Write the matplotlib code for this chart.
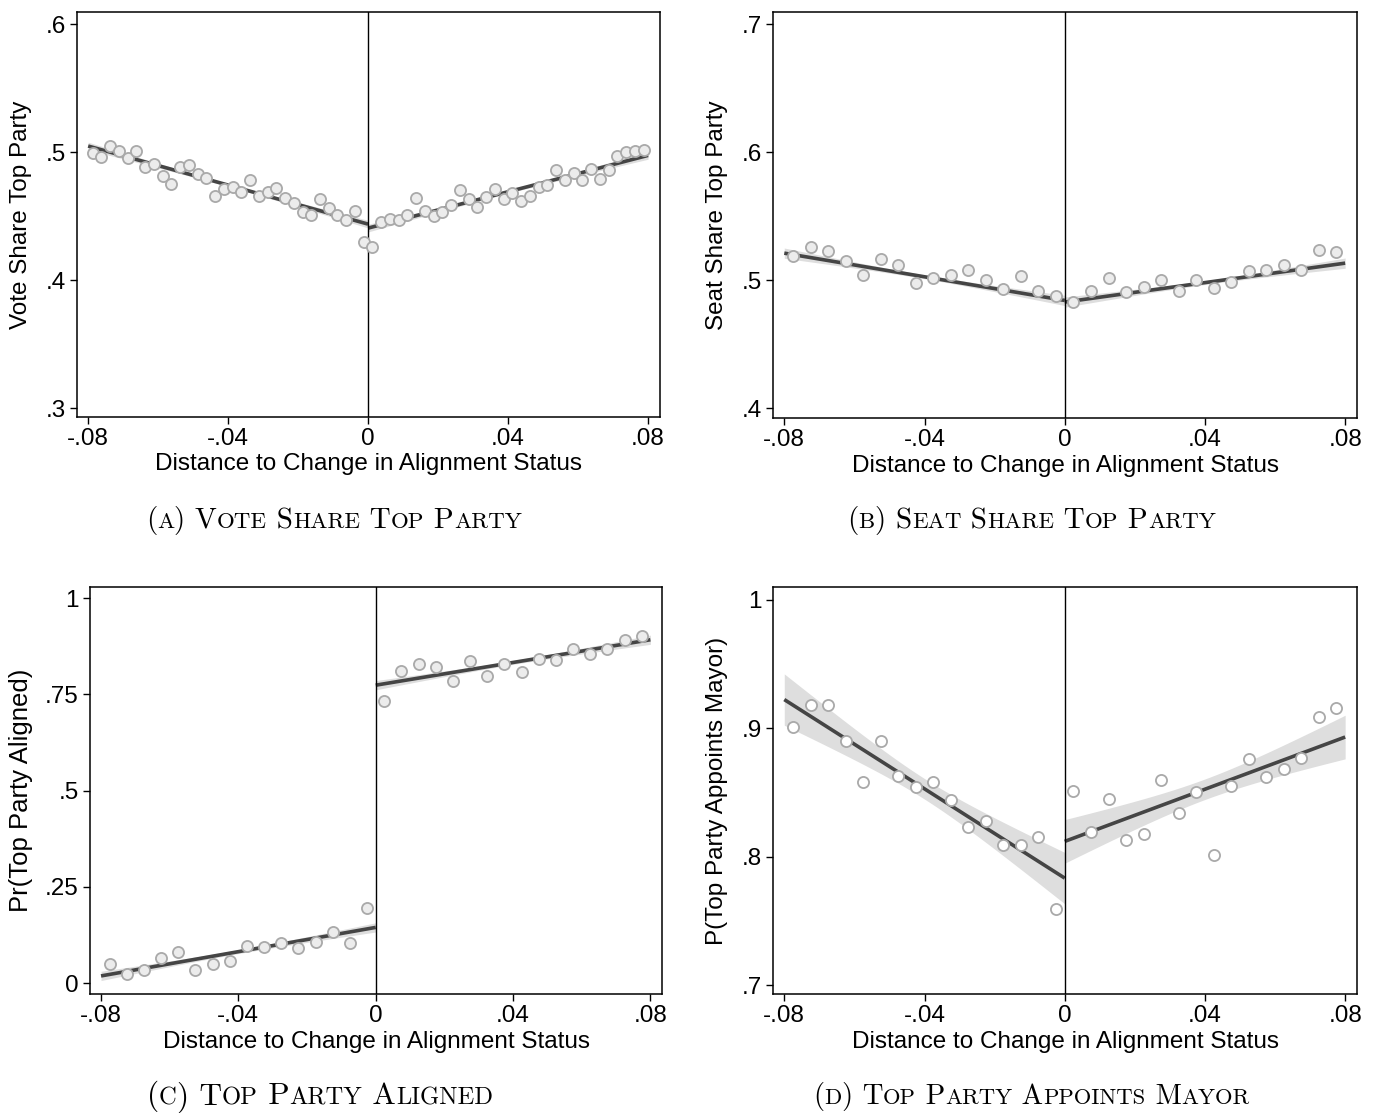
import numpy as np
import matplotlib
matplotlib.use("Agg")
import matplotlib.pyplot as plt
from matplotlib.offsetbox import TextArea, HPacker, AnchoredOffsetbox

# bin centres (regular grid of bins on each side of the cutoff)
bins_fine_left = np.linspace(-0.07875, -0.00125, 32)
bins_fine_right = np.linspace(0.00125, 0.07875, 32)
bins_coarse_left = np.linspace(-0.0775, -0.0025, 16)
bins_coarse_right = np.linspace(0.0025, 0.0775, 16)

# (A) vote share top party
vote_left = [0.499, 0.496, 0.505, 0.501, 0.495, 0.501, 0.488, 0.491, 0.481, 0.475,
             0.488, 0.490, 0.483, 0.480, 0.466, 0.471, 0.473, 0.469, 0.478, 0.466,
             0.469, 0.472, 0.464, 0.460, 0.453, 0.451, 0.463, 0.456, 0.451, 0.447,
             0.454, 0.430]
vote_right = [0.426, 0.445, 0.448, 0.447, 0.451, 0.464, 0.454, 0.450, 0.453, 0.459,
              0.470, 0.463, 0.457, 0.465, 0.471, 0.463, 0.468, 0.462, 0.466, 0.473,
              0.474, 0.486, 0.478, 0.484, 0.478, 0.487, 0.479, 0.486, 0.497, 0.500,
              0.501, 0.502]

# (B) seat share top party
seat_left = [0.519, 0.526, 0.523, 0.515, 0.504, 0.517, 0.512, 0.498, 0.502, 0.504,
             0.508, 0.500, 0.493, 0.503, 0.492, 0.488]
seat_right = [0.483, 0.492, 0.502, 0.491, 0.495, 0.500, 0.492, 0.500, 0.494, 0.499,
              0.507, 0.508, 0.512, 0.508, 0.524, 0.522]

# (C) top party aligned
aligned_left = [0.050, 0.023, 0.035, 0.065, 0.081, 0.035, 0.050, 0.058, 0.098, 0.094,
                0.105, 0.092, 0.108, 0.132, 0.104, 0.195]
aligned_right = [0.732, 0.810, 0.830, 0.820, 0.785, 0.838, 0.797, 0.829, 0.807, 0.842,
                 0.839, 0.867, 0.855, 0.867, 0.892, 0.902]

# (D) top party appoints mayor
mayor_left = [0.901, 0.918, 0.918, 0.890, 0.858, 0.890, 0.863, 0.854, 0.858, 0.844,
              0.823, 0.828, 0.809, 0.809, 0.815, 0.759]
mayor_right = [0.851, 0.819, 0.845, 0.813, 0.818, 0.860, 0.834, 0.850, 0.801, 0.855,
               0.876, 0.862, 0.868, 0.877, 0.909, 0.916]

# linear fits: value at the outer edge and at the cutoff, CI half-width (edge, middle)
fit_vote = {"left": (0.5047, 0.4437), "right": (0.4406, 0.4974), "ci": ((0.003, 0.0012), (0.003, 0.0012))}
fit_seat = {"left": (0.5212, 0.4843), "right": (0.4830, 0.5134), "ci": ((0.004, 0.0015), (0.004, 0.0015))}
fit_aligned = {"left": (0.019, 0.145), "right": (0.774, 0.892), "ci": ((0.012, 0.005), (0.012, 0.005))}
fit_mayor = {"left": (0.9224, 0.7833), "right": (0.8119, 0.8932), "ci": ((0.020, 0.008), (0.017, 0.008))}

x_ticks = [-0.08, -0.04, 0, 0.04, 0.08]
x_ticklabels = ["-.08", "-.04", "0", ".04", ".08"]
xlabel = "Distance to Change in Alignment Status"

yticks_vote = [0.3, 0.4, 0.5, 0.6]
ylabels_vote = [".3", ".4", ".5", ".6"]
yticks_seat = [0.4, 0.5, 0.6, 0.7]
ylabels_seat = [".4", ".5", ".6", ".7"]
yticks_aligned = [0, 0.25, 0.5, 0.75, 1]
ylabels_aligned = ["0", ".25", ".5", ".75", "1"]
yticks_mayor = [0.7, 0.8, 0.9, 1.0]
ylabels_mayor = [".7", ".8", ".9", "1"]

SANS = ["Liberation Sans", "DejaVu Sans"]
SERIF = ["cmr10", "DejaVu Serif"]
LABEL_SIZE = 17.5


def draw_side(ax, x0, x1, ends, ci):
    xs = np.linspace(x0, x1, 100)
    ys = ends[0] + (ends[1] - ends[0]) * (xs - x0) / (x1 - x0)
    edge, mid = ci
    xc = (x0 + x1) / 2
    half = (x1 - x0) / 2
    hw = np.sqrt(mid ** 2 + (edge ** 2 - mid ** 2) * ((xs - xc) / half) ** 2)
    ax.fill_between(xs, ys - hw, ys + hw, color="#dedede", lw=0, zorder=1)
    ax.plot(xs, ys, color="#454545", lw=2.6, zorder=2, solid_capstyle="butt")


def draw_panel(ax, xl, yl, xr, yr, fit, ylim, yticks, yticklabels, ylabel,
               face="#ececec", ylab_x=-0.077, ylab_size=LABEL_SIZE):
    draw_side(ax, -0.08, 0.0, fit["left"], fit["ci"][0])
    draw_side(ax, 0.0, 0.08, fit["right"], fit["ci"][1])
    ax.axvline(0, color="black", lw=1.0, zorder=3)
    for xs, ys in ((xl, yl), (xr, yr)):
        ax.plot(xs, ys, "o", ms=8, mfc=face, mec="#a9a9a9", mew=1.3, zorder=4)
    ax.set_xlim(-0.0832, 0.0834)
    ax.set_ylim(*ylim)
    ax.set_xticks(x_ticks)
    ax.set_xticklabels(x_ticklabels, family=SANS, fontsize=LABEL_SIZE)
    ax.set_yticks(yticks)
    ax.set_yticklabels(yticklabels, family=SANS, fontsize=LABEL_SIZE)
    ax.tick_params(direction="out", length=5, width=1.0, pad=3)
    ax.set_xlabel(xlabel, family=SANS, fontsize=LABEL_SIZE)
    ax.set_ylabel(ylabel, family=SANS, fontsize=ylab_size)
    ax.xaxis.set_label_coords(0.5, -0.09)
    ax.yaxis.set_label_coords(ylab_x, 0.5)
    for sp in ax.spines.values():
        sp.set_linewidth(1.1)


def caption(fig, x, y, text, big=21, small=16.5):
    # fake small caps: lowercase letters become smaller capitals
    runs = []
    for ch in text:
        is_small = ch.islower()
        if runs and runs[-1][1] == is_small:
            runs[-1][0] += ch.upper() if is_small else ch
        else:
            runs.append([ch.upper() if is_small else ch, is_small])
    children = [TextArea(t, textprops=dict(fontsize=small if s else big, family=SERIF))
                for t, s in runs]
    box = HPacker(children=children, align="baseline", pad=0, sep=0)
    ab = AnchoredOffsetbox(loc="center", child=box, bbox_to_anchor=(x, y),
                           bbox_transform=fig.transFigure, frameon=False, pad=0, borderpad=0)
    fig.add_artist(ab)


fig = plt.figure(figsize=(13.79, 11.13), dpi=100)
ax_a = fig.add_axes([0.0558, 0.6253, 0.4228, 0.3639])
ax_b = fig.add_axes([0.5606, 0.6244, 0.4235, 0.3648])
ax_c = fig.add_axes([0.0653, 0.1069, 0.4148, 0.3657])
ax_d = fig.add_axes([0.5606, 0.1069, 0.4235, 0.3657])

draw_panel(ax_a, bins_fine_left, vote_left, bins_fine_right, vote_right, fit_vote,
           (0.293, 0.6094), yticks_vote, ylabels_vote, "Vote Share Top Party")
draw_panel(ax_b, bins_coarse_left, seat_left, bins_coarse_right, seat_right, fit_seat,
           (0.3925, 0.7094), yticks_seat, ylabels_seat, "Seat Share Top Party")
draw_panel(ax_c, bins_coarse_left, aligned_left, bins_coarse_right, aligned_right, fit_aligned,
           (-0.028, 1.029), yticks_aligned, ylabels_aligned, "Pr(Top Party Aligned)",
           ylab_x=-0.10, ylab_size=18.5)
draw_panel(ax_d, bins_coarse_left, mayor_left, bins_coarse_right, mayor_right, fit_mayor,
           (0.693, 1.0101), yticks_mayor, ylabels_mayor, "P(Top Party Appoints Mayor)",
           face="white")

caption(fig, 0.242, 0.532, "(a) Vote Share Top Party")
caption(fig, 0.748, 0.532, "(b) Seat Share Top Party")
caption(fig, 0.232, 0.0144, "(c) Top Party Aligned", big=22.5, small=17.7)
caption(fig, 0.748, 0.0144, "(d) Top Party Appoints Mayor", big=20.7, small=16.3)

fig.savefig("out.png", dpi=100)
